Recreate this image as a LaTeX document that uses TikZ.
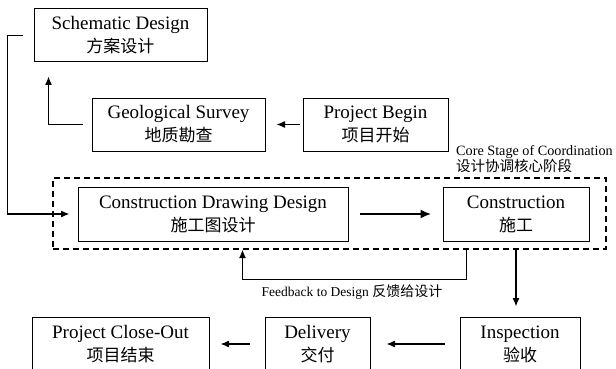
\documentclass[tikz,border=0pt]{standalone}
\usepackage{fontspec}
\setmainfont{Liberation Serif}
\newfontfamily\cjk{Noto Sans CJK SC}
\usepackage{tikz}
\usetikzlibrary{arrows.meta}
\newcommand{\zh}[1]{{\cjk\fontsize{17}{23}\selectfont #1}}
\tikzstyle{notions} = [rectangle,
line width=1pt,
align=center,
inner sep=0pt,
draw=black,
font=\fontsize{19}{23}\selectfont]
\tikzstyle{corebox} = [rectangle, draw=black, line width=1.2pt,
dash pattern=on 6pt off 4pt,
minimum width=553pt, minimum height=71pt]
\tikzstyle{arrow} = [line width=1.2pt,-{Latex[length=8.5pt,width=7pt]}]
\tikzstyle{thickarrow} = [line width=2.4pt,-{Latex[length=11pt,width=9pt]}]

\begin{document}
\begin{tikzpicture}[x=1pt,y=-1pt]
				\useasboundingbox (0,0) rectangle (616,369);
				\clip (0,0) rectangle (616,369);
				\node[corebox] (core) at (329.5,213.5) {};
				\node[notions, minimum width=173pt, minimum height=53pt] (s-d) at (120.5,35.5) {Schematic Design\\\zh{方案设计}};
				\node[notions, minimum width=173pt, minimum height=53pt] (g-s) at (178.5,124.5) {Geological Survey\\\zh{地质勘查}};
				\node[notions, minimum width=145pt, minimum height=53pt] (p-b) at (375.5,124.5) {Project Begin\\\zh{项目开始}};
				\node[notions, minimum width=270pt, minimum height=54pt] (c-d-d) at (213,214) {Construction Drawing Design\\\zh{施工图设计}};
				\node[notions, minimum width=146pt, minimum height=54pt] (c) at (516,214) {Construction\\\zh{施工}};
				\node[notions, minimum width=120pt, minimum height=54pt] (i) at (520,344) {Inspection\\\zh{验收}};
				\node[notions, minimum width=105pt, minimum height=54pt] (d) at (317.5,344) {Delivery\\\zh{交付}};
				\node[notions, minimum width=177pt, minimum height=54pt] (p-c-o) at (120.5,344) {Project Close-Out\\\zh{项目结束}};
				\node[anchor=south west, align=left, inner sep=0pt, font=\fontsize{14.2}{16}\selectfont] (c-s) at (456,173) {Core Stage of Coordination\\{\cjk\fontsize{14.5}{16}\selectfont 设计协调核心阶段}};
				\node[inner sep=0pt, font=\fontsize{13.5}{16}\selectfont] (f-d) at (352,292) {Feedback to Design {\cjk\fontsize{14}{16}\selectfont 反馈给设计}};

				\draw[arrow, shorten <=3pt, shorten >=11pt] (p-b) -- (g-s);
				\draw[arrow] ([xshift=-9pt]g-s.west) -| ([xshift=15pt,yshift=-14pt]s-d.south west);
				\draw[arrow] ([xshift=-11pt]s-d.west) -- ++(-15,0) |- ([xshift=-8pt]c-d-d.west);
				\draw[thickarrow, shorten <=11pt, shorten >=11pt] (c-d-d) -- (c);
				\draw[arrow] ([xshift=24pt]c.south west |- core.south) -- ++(0,30) -| ([xshift=165pt]c-d-d.south west |- core.south);
				\draw[arrow] (c.south |- core.south) -- ([yshift=10pt]c.south |- i.north);
				\draw[arrow, shorten <=15pt, shorten >=16pt] (i) -- (d);
				\draw[arrow, shorten <=15pt, shorten >=11pt] (d) -- (p-c-o);
			\end{tikzpicture}
\end{document}
